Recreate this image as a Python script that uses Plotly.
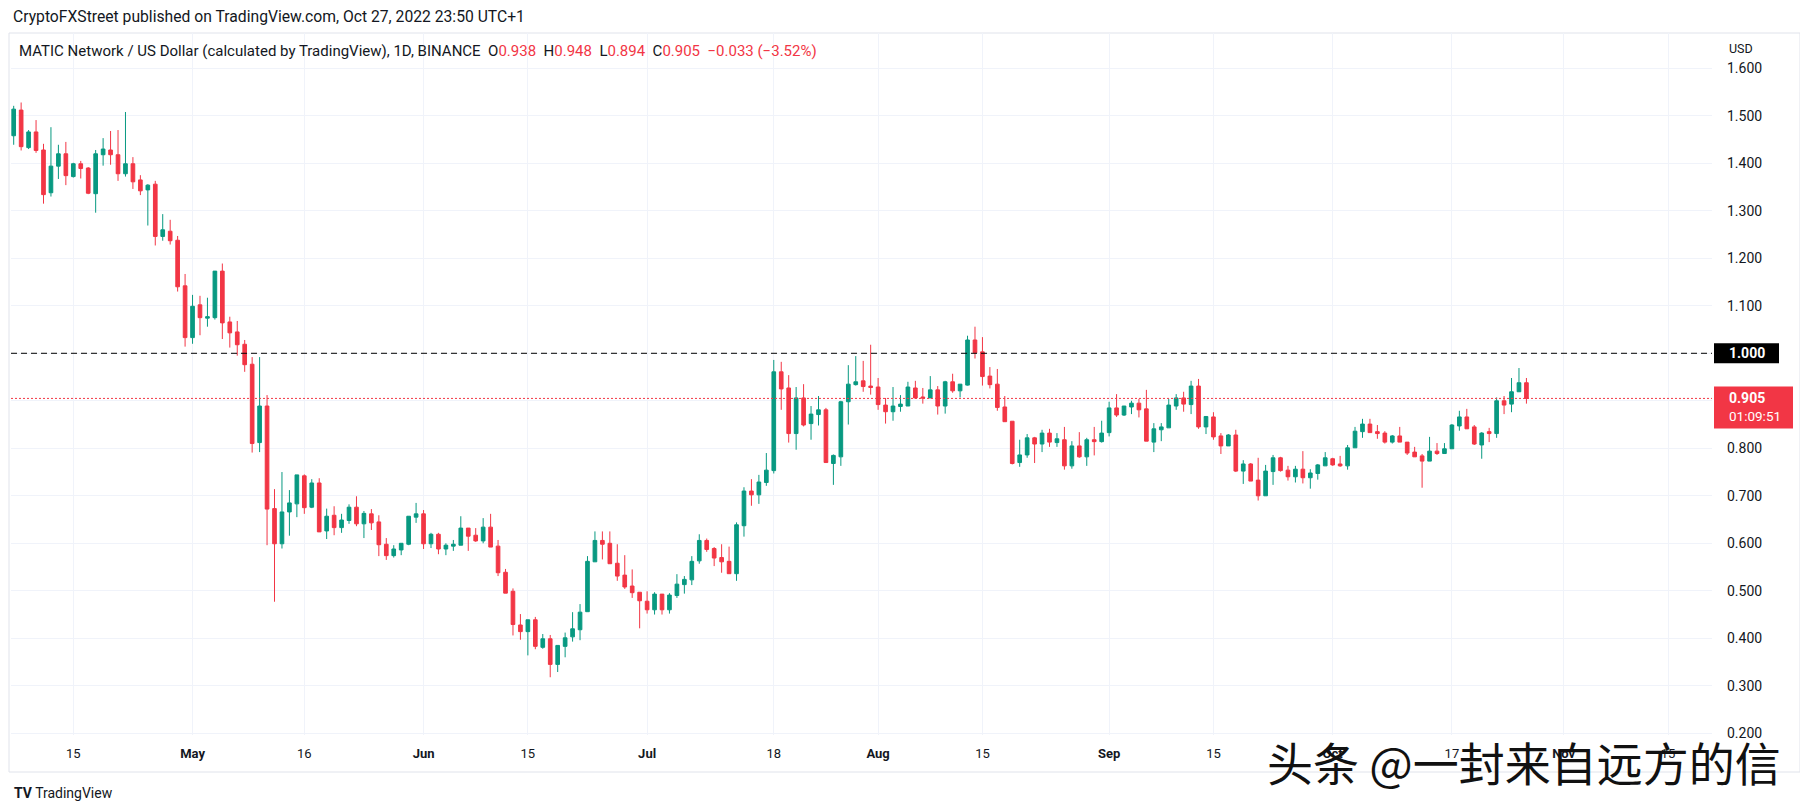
import pandas as pd
import plotly.graph_objects as go

# ---------------- data (MATIC/USD daily) ----------------
start_date = "2022-04-07"
end_date = "2022-10-27"

opens = [
    1.458, 1.512, 1.433, 1.466, 1.428, 1.338, 1.394, 1.420, 1.372, 1.399, 1.390, 1.336,
    1.418, 1.428, 1.418, 1.378, 1.399, 1.365, 1.344, 1.356, 1.246, 1.257, 1.238, 1.142,
    # May
    1.033, 1.102, 1.074, 1.075, 1.173, 1.066, 1.045, 1.019, 0.977, 0.812, 0.889, 0.673,
    0.599, 0.666, 0.683, 0.742, 0.676, 0.727, 0.626, 0.659, 0.633, 0.648, 0.676, 0.641,
    0.662, 0.645, 0.598, 0.574, 0.586, 0.598, 0.655,
    # Jun
    0.662, 0.599, 0.619, 0.588, 0.594, 0.596, 0.632, 0.617, 0.605, 0.634, 0.594, 0.539,
    0.499, 0.428, 0.414, 0.439, 0.381, 0.399, 0.345, 0.383, 0.403, 0.418, 0.456, 0.561,
    0.606, 0.600, 0.558, 0.533, 0.510, 0.497,
    # Jul
    0.478, 0.460, 0.493, 0.460, 0.490, 0.513, 0.523, 0.563, 0.606, 0.589, 0.570, 0.562,
    0.536, 0.637, 0.710, 0.702, 0.728, 0.753, 0.961, 0.927, 0.831, 0.906, 0.852, 0.871,
    0.881, 0.768, 0.782, 0.898, 0.934, 0.942, 0.931,
    # Aug
    0.929, 0.891, 0.877, 0.888, 0.889, 0.927, 0.908, 0.906, 0.923, 0.889, 0.940, 0.921,
    0.933, 1.028, 1.003, 0.952, 0.935, 0.887, 0.857, 0.770, 0.786, 0.822, 0.809, 0.832,
    0.812, 0.818, 0.763, 0.805, 0.782, 0.818, 0.814,
    # Sep
    0.833, 0.885, 0.870, 0.887, 0.895, 0.883, 0.813, 0.839, 0.843, 0.889, 0.906, 0.892,
    0.931, 0.845, 0.866, 0.826, 0.805, 0.828, 0.752, 0.767, 0.733, 0.700, 0.751, 0.780,
    0.754, 0.740, 0.756, 0.738, 0.747, 0.763,
    # Oct
    0.778, 0.767, 0.763, 0.801, 0.835, 0.851, 0.835, 0.832, 0.813, 0.826, 0.813, 0.792,
    0.784, 0.773, 0.794, 0.789, 0.799, 0.847, 0.866, 0.845, 0.807, 0.835, 0.831, 0.900,
    0.893, 0.919, 0.938,
]

highs = [
    1.521, 1.528, 1.470, 1.491, 1.441, 1.476, 1.439, 1.445, 1.401, 1.405, 1.392, 1.428,
    1.453, 1.468, 1.470, 1.508, 1.413, 1.375, 1.356, 1.363, 1.293, 1.281, 1.247, 1.167,
    # May
    1.123, 1.121, 1.117, 1.173, 1.189, 1.077, 1.068, 1.028, 0.992, 0.992, 0.912, 0.714,
    0.750, 0.712, 0.744, 0.745, 0.735, 0.737, 0.673, 0.678, 0.662, 0.682, 0.699, 0.668,
    0.672, 0.659, 0.611, 0.596, 0.600, 0.657, 0.685,
    # Jun
    0.670, 0.622, 0.622, 0.600, 0.607, 0.657, 0.632, 0.632, 0.653, 0.662, 0.607, 0.546,
    0.505, 0.451, 0.439, 0.445, 0.409, 0.407, 0.385, 0.412, 0.455, 0.472, 0.573, 0.625,
    0.625, 0.625, 0.598, 0.575, 0.545, 0.497,
    # Jul
    0.499, 0.497, 0.493, 0.495, 0.535, 0.531, 0.573, 0.619, 0.610, 0.592, 0.598, 0.593,
    0.644, 0.718, 0.735, 0.744, 0.790, 0.986, 0.982, 0.954, 0.929, 0.935, 0.889, 0.910,
    0.885, 0.787, 0.900, 0.975, 0.994, 0.984, 1.018,
    # Aug
    0.948, 0.906, 0.929, 0.912, 0.940, 0.942, 0.927, 0.952, 0.931, 0.942, 0.957, 0.935,
    1.037, 1.056, 1.034, 0.971, 0.967, 0.910, 0.857, 0.818, 0.830, 0.824, 0.839, 0.841,
    0.832, 0.845, 0.815, 0.834, 0.822, 0.845, 0.858,
    # Sep
    0.898, 0.914, 0.889, 0.900, 0.904, 0.923, 0.853, 0.853, 0.904, 0.914, 0.919, 0.942,
    0.946, 0.867, 0.876, 0.832, 0.830, 0.839, 0.775, 0.769, 0.780, 0.765, 0.786, 0.782,
    0.763, 0.763, 0.794, 0.756, 0.767, 0.792,
    # Oct
    0.780, 0.784, 0.807, 0.845, 0.862, 0.862, 0.849, 0.836, 0.828, 0.845, 0.813, 0.803,
    0.788, 0.824, 0.811, 0.811, 0.851, 0.879, 0.883, 0.849, 0.834, 0.843, 0.907, 0.910,
    0.948, 0.969, 0.948,
]

lows = [
    1.439, 1.427, 1.430, 1.422, 1.315, 1.330, 1.367, 1.354, 1.370, 1.368, 1.335, 1.296,
    1.395, 1.397, 1.363, 1.372, 1.346, 1.333, 1.269, 1.227, 1.237, 1.229, 1.130, 1.014,
    # May
    1.020, 1.038, 1.056, 1.071, 1.030, 1.012, 0.995, 0.961, 0.791, 0.792, 0.596, 0.477,
    0.589, 0.616, 0.655, 0.662, 0.674, 0.624, 0.609, 0.617, 0.622, 0.641, 0.636, 0.611,
    0.628, 0.573, 0.565, 0.570, 0.575, 0.596, 0.643,
    # Jun
    0.588, 0.590, 0.577, 0.575, 0.584, 0.596, 0.584, 0.603, 0.600, 0.592, 0.531, 0.495,
    0.406, 0.397, 0.364, 0.377, 0.378, 0.318, 0.329, 0.360, 0.393, 0.396, 0.456, 0.561,
    0.566, 0.557, 0.521, 0.504, 0.485, 0.421,
    # Jul
    0.452, 0.450, 0.450, 0.452, 0.485, 0.494, 0.512, 0.557, 0.582, 0.552, 0.538, 0.536,
    0.521, 0.614, 0.679, 0.683, 0.721, 0.747, 0.881, 0.812, 0.797, 0.846, 0.818, 0.848,
    0.770, 0.723, 0.763, 0.850, 0.932, 0.919, 0.913,
    # Aug
    0.881, 0.852, 0.858, 0.877, 0.889, 0.905, 0.894, 0.906, 0.871, 0.873, 0.917, 0.907,
    0.932, 0.989, 0.932, 0.926, 0.879, 0.856, 0.766, 0.761, 0.780, 0.769, 0.792, 0.803,
    0.803, 0.755, 0.757, 0.780, 0.763, 0.785, 0.812,
    # Sep
    0.825, 0.866, 0.868, 0.872, 0.865, 0.815, 0.792, 0.815, 0.843, 0.881, 0.877, 0.872,
    0.841, 0.830, 0.818, 0.788, 0.805, 0.750, 0.725, 0.731, 0.690, 0.700, 0.723, 0.751,
    0.732, 0.728, 0.726, 0.715, 0.734, 0.763,
    # Oct
    0.763, 0.761, 0.755, 0.801, 0.822, 0.833, 0.820, 0.810, 0.810, 0.813, 0.786, 0.782,
    0.717, 0.773, 0.786, 0.789, 0.799, 0.837, 0.841, 0.807, 0.778, 0.813, 0.822, 0.872,
    0.876, 0.919, 0.894,
]

closes = [
    1.514, 1.435, 1.466, 1.427, 1.334, 1.394, 1.420, 1.374, 1.399, 1.389, 1.337, 1.420,
    1.430, 1.418, 1.378, 1.399, 1.361, 1.342, 1.354, 1.246, 1.260, 1.237, 1.140, 1.033,
    # May
    1.099, 1.075, 1.077, 1.173, 1.064, 1.043, 1.018, 0.976, 0.810, 0.889, 0.672, 0.599,
    0.666, 0.685, 0.744, 0.675, 0.727, 0.624, 0.657, 0.633, 0.649, 0.676, 0.641, 0.663,
    0.643, 0.597, 0.574, 0.588, 0.600, 0.657, 0.662,
    # Jun
    0.599, 0.619, 0.588, 0.596, 0.598, 0.632, 0.615, 0.605, 0.634, 0.592, 0.538, 0.495,
    0.429, 0.414, 0.439, 0.383, 0.399, 0.345, 0.385, 0.401, 0.420, 0.455, 0.562, 0.606,
    0.598, 0.557, 0.531, 0.508, 0.496, 0.479,
    # Jul
    0.460, 0.493, 0.460, 0.491, 0.514, 0.524, 0.562, 0.606, 0.587, 0.569, 0.561, 0.536,
    0.639, 0.710, 0.702, 0.729, 0.754, 0.961, 0.925, 0.831, 0.906, 0.849, 0.872, 0.881,
    0.770, 0.785, 0.898, 0.935, 0.940, 0.930, 0.928,
    # Aug
    0.892, 0.877, 0.889, 0.893, 0.929, 0.906, 0.906, 0.923, 0.889, 0.940, 0.921, 0.935,
    1.028, 1.001, 0.951, 0.934, 0.886, 0.856, 0.768, 0.786, 0.822, 0.809, 0.832, 0.813,
    0.820, 0.763, 0.805, 0.782, 0.818, 0.814, 0.832,
    # Sep
    0.885, 0.870, 0.889, 0.895, 0.881, 0.815, 0.841, 0.845, 0.891, 0.906, 0.893, 0.931,
    0.845, 0.867, 0.824, 0.805, 0.828, 0.752, 0.767, 0.731, 0.700, 0.752, 0.780, 0.753,
    0.740, 0.756, 0.738, 0.748, 0.765, 0.780,
    # Oct
    0.765, 0.763, 0.801, 0.836, 0.851, 0.833, 0.831, 0.813, 0.826, 0.813, 0.790, 0.782,
    0.773, 0.794, 0.789, 0.799, 0.849, 0.866, 0.841, 0.809, 0.832, 0.831, 0.900, 0.891,
    0.919, 0.938, 0.905,
]

dates = pd.date_range(start_date, end_date, freq="D")

time_tick_dates = ["2022-04-15", "2022-05-01", "2022-05-16", "2022-06-01", "2022-06-15",
                   "2022-07-01", "2022-07-18", "2022-08-01", "2022-08-15", "2022-09-01",
                   "2022-09-15", "2022-10-01", "2022-10-17", "2022-11-01", "2022-11-15"]
time_tick_labels = ["15", "<b>May</b>", "16", "<b>Jun</b>", "15", "<b>Jul</b>", "18", "<b>Aug</b>",
                    "15", "<b>Sep</b>", "15", "<b>Oct</b>", "17", "<b>Nov</b>", "15"]

price_ticks = [0.2, 0.3, 0.4, 0.5, 0.6, 0.7, 0.8, 0.9, 1.0, 1.1, 1.2, 1.3, 1.4, 1.5, 1.6]
price_tick_labels = ["0.200", "0.300", "0.400", "0.500", "0.600", "0.700", "0.800", "",
                     "", "1.100", "1.200", "1.300", "1.400", "1.500", "1.600"]

level_price = 1.0
header_text = "CryptoFXStreet published on TradingView.com, Oct 27, 2022 23:50 UTC+1"
symbol_text = "MATIC Network / US Dollar (calculated by TradingView), 1D, BINANCE"
countdown_text = "01:09:51"
watermark_text = "头条 @一封来自远方的信"

# ---------------- styling / layout ----------------
PAGE_OFFSET = 8                      # default body margin of the html page
WIN_W, WIN_H = 1808, 812
W, H = WIN_W - PAGE_OFFSET, WIN_H - PAGE_OFFSET
# plot area in window pixels
PX0, PX1, PY0, PY1 = 11, 1712, 33, 735
PW, PH = PX1 - PX0, PY1 - PY0
L = PX0 - PAGE_OFFSET
T = PY0 - PAGE_OFFSET
R = W - (PX1 - PAGE_OFFSET)
B = H - (PY1 - PAGE_OFFSET)

UP = "#089981"
DOWN = "#F23645"
TXT = "#131722"
GRID = "#f0f3fa"
FONT = "Roboto, Noto Sans, sans-serif"


def px(x):
    return (x - PX0) / PW


def py(y):
    return (PY1 - y) / PH


y_range = [0.1964, 1.6743]
ppp = (y_range[1] - y_range[0]) / PH  # price per pixel

fig = go.Figure(go.Candlestick(
    x=dates, open=opens, high=highs, low=lows, close=closes,
    increasing=dict(line=dict(color=UP, width=1), fillcolor=UP),
    decreasing=dict(line=dict(color=DOWN, width=1), fillcolor=DOWN),
    whiskerwidth=0, showlegend=False, hoverinfo="skip",
))

last_open, last_high, last_low, last_close = opens[-1], highs[-1], lows[-1], closes[-1]
chg = last_close - last_open
chg_pct = chg / last_open * 100

shapes = [
    dict(type="rect", xref="paper", yref="paper", x0=px(9), x1=px(1800), y0=py(772), y1=py(33),
         line=dict(color="#e0e3eb", width=1), fillcolor="rgba(0,0,0,0)", layer="below"),
    dict(type="line", xref="paper", yref="y", x0=0, x1=1, y0=level_price, y1=level_price,
         line=dict(color="#000000", width=1, dash="6px,4px")),
    dict(type="line", xref="paper", yref="y", x0=0, x1=1, y0=last_close, y1=last_close,
         line=dict(color=DOWN, width=1, dash="2px,2px")),
    dict(type="rect", xref="paper", yref="y", x0=px(1714), x1=px(1779),
         y0=level_price - 10 * ppp, y1=level_price + 10 * ppp,
         line=dict(width=0), fillcolor="#000000"),
    dict(type="rect", xref="paper", yref="y", x0=px(1714), x1=px(1793),
         y0=last_close - 30 * ppp, y1=last_close + 12 * ppp,
         line=dict(width=0), fillcolor=DOWN),
]

annotations = [
    dict(text=header_text, xref="paper", yref="paper", x=px(11), y=py(16), xanchor="left",
         yanchor="middle", showarrow=False, font=dict(family=FONT, size=15.7, color=TXT)),
    dict(text=(f"{symbol_text}&nbsp;&nbsp;O<span style='color:{DOWN}'>{last_open:.3f}</span>"
               f"&nbsp;&nbsp;H<span style='color:{DOWN}'>{last_high:.3f}</span>"
               f"&nbsp;&nbsp;L<span style='color:{DOWN}'>{last_low:.3f}</span>"
               f"&nbsp;&nbsp;C<span style='color:{DOWN}'>{last_close:.3f}</span>"
               f"&nbsp;&nbsp;<span style='color:{DOWN}'>−{abs(chg):.3f} (−{abs(chg_pct):.2f}%)</span>"),
         xref="paper", yref="paper", x=px(17), y=py(51), xanchor="left", yanchor="middle",
         showarrow=False, font=dict(family=FONT, size=15, color=TXT)),
    dict(text="USD", xref="paper", yref="paper", x=px(1727), y=py(48), xanchor="left",
         yanchor="middle", showarrow=False, font=dict(family=FONT, size=12.5, color=TXT)),
    dict(text=f"<b>{level_price:.3f}</b>", xref="paper", yref="y", x=px(1727), y=level_price,
         xanchor="left", yanchor="middle", showarrow=False,
         font=dict(family=FONT, size=14, color="#ffffff")),
    dict(text=f"<b>{last_close:.3f}</b>", xref="paper", yref="y", x=px(1727), y=last_close,
         xanchor="left", yanchor="middle", showarrow=False,
         font=dict(family=FONT, size=14, color="#ffffff")),
    dict(text=countdown_text, xref="paper", yref="y", x=px(1727), y=last_close - 18 * ppp,
         xanchor="left", yanchor="middle", showarrow=False,
         font=dict(family=FONT, size=13.5, color="#ffffff")),
    dict(text="<b>TV</b> TradingView", xref="paper", yref="paper", x=px(12), y=py(793),
         xanchor="left", yanchor="middle", showarrow=False,
         font=dict(family=FONT, size=14, color=TXT)),
    dict(text=watermark_text, xref="paper", yref="paper", x=px(1524), y=py(761),
         xanchor="center", yanchor="middle", showarrow=False,
         font=dict(family="Noto Sans CJK SC", size=46, color="#111111")),
]

fig.update_layout(
    width=W, height=H,
    margin=dict(l=L, r=R, t=T, b=B, pad=0),
    paper_bgcolor="#ffffff", plot_bgcolor="#ffffff",
    shapes=shapes, annotations=annotations,
    xaxis=dict(
        type="date",
        range=["2022-04-06 15:20", "2022-11-20 21:40"],
        tickvals=time_tick_dates, ticktext=time_tick_labels,
        showgrid=True, gridcolor=GRID, gridwidth=1,
        zeroline=False, showline=False, ticks="",
        tickfont=dict(family=FONT, size=13, color=TXT),
        ticklabelstandoff=9,
        rangeslider=dict(visible=False),
    ),
    yaxis=dict(
        side="right", range=y_range,
        tickvals=price_ticks, ticktext=price_tick_labels,
        showgrid=True, gridcolor=GRID, gridwidth=1,
        zeroline=False, showline=False, ticks="",
        tickfont=dict(family=FONT, size=14, color=TXT),
        ticklabelstandoff=14,
    ),
    font=dict(family=FONT, color=TXT),
)

fig.write_html("out.html")
